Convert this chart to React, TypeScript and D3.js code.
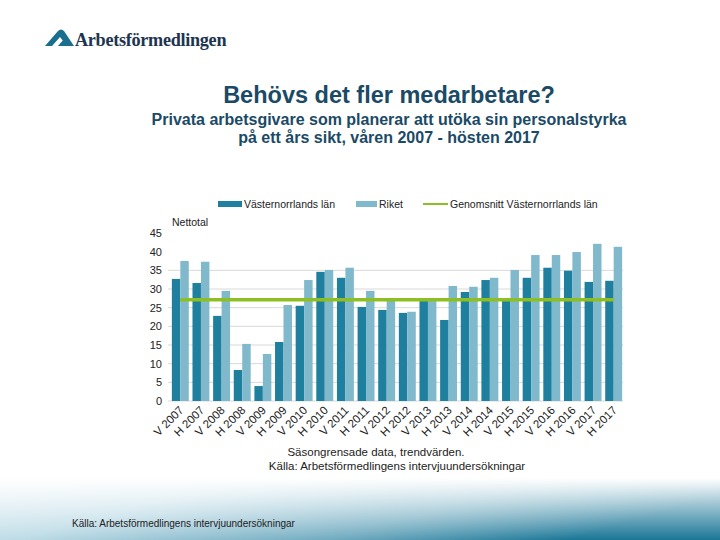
import React from "react";
import * as d3 from "d3";

const categories = ["V 2007","H 2007","V 2008","H 2008","V 2009","H 2009","V 2010","H 2010","V 2011","H 2011","V 2012","H 2012","V 2013","H 2013","V 2014","H 2014","V 2015","H 2015","V 2016","H 2016","V 2017","H 2017"];
const vasternorrland = [32.7,31.6,22.8,8.3,4.0,15.8,25.5,34.6,33.0,25.2,24.4,23.6,27.1,21.7,29.2,32.4,27.1,33.0,35.7,34.9,31.9,32.2];
const riket = [37.5,37.3,29.5,15.3,12.6,25.7,32.4,35.1,35.7,29.5,27.1,23.9,27.6,30.8,30.6,33.0,35.1,39.1,39.1,39.9,42.1,41.3];
const average = 27.1;
const yTicks = [0,5,10,15,20,25,30,35,40,45];
const gridTicks = [5,10,15,20,25,30,35];

const DARK = "#1f7f9e";
const LIGHT = "#80b9cb";
const GREEN = "#8dbf22";
const FONT = "'Liberation Sans', Arial, sans-serif";

export default function App() {
  const W = 720, H = 540;
  const x = d3.scaleBand<string>().domain(categories).range([170, 624]).paddingInner(0.18).paddingOuter(0.09);
  const y = d3.scaleLinear().domain([0, 45]).range([401, 233]);
  const bw = x.bandwidth() / 2;
  const x0 = (x(categories[0]) as number) + x.bandwidth() / 2;
  const x1 = (x(categories[categories.length - 1]) as number) + x.bandwidth() / 2;

  return (
    <svg width={W} height={H} style={{ position: "absolute", left: 0, top: 0 }} fontFamily={FONT}>
      <defs>
        <linearGradient id="bg" x1="0" y1="0" x2="1" y2="0.3">
          <stop offset="0" stopColor="#d4e8ef" />
          <stop offset="0.3" stopColor="#bcdbe6" />
          <stop offset="0.7" stopColor="#6faabf" />
          <stop offset="1" stopColor="#1b7797" />
        </linearGradient>
        <linearGradient id="fade" x1="0" y1="0" x2="0" y2="1">
          <stop offset="0" stopColor="#ffffff" stopOpacity="1" />
          <stop offset="0.4" stopColor="#ffffff" stopOpacity="0.6" />
          <stop offset="1" stopColor="#ffffff" stopOpacity="0" />
        </linearGradient>
      </defs>
      <rect x={0} y={0} width={W} height={H} fill="#ffffff" />
      <rect x={0} y={478} width={W} height={62} fill="url(#bg)" />
      <rect x={0} y={478} width={W} height={62} fill="url(#fade)" />

      {/* logo */}
      <g>
        <path d="M45,46 L58,31 Q61,28 64,31 L74,46 L67,46 L60,37 L52,46 Z" fill="#1b6f8e" />
        <path d="M58,46 L64,39 L70,46 Z" fill="#1b6f8e" />
        <text x={75} y={46} fontFamily="'Liberation Serif', 'DejaVu Serif', serif" fontSize={18.2} fontWeight="bold" fill="#1d3550" letterSpacing={-0.3}>Arbetsförmedlingen</text>
      </g>

      {/* titles */}
      <text x={389} y={103} textAnchor="middle" fontSize={23.5} fontWeight="bold" fill="#1b4a66">Behövs det fler medarbetare?</text>
      <text x={389} y={125} textAnchor="middle" fontSize={16} fontWeight="bold" fill="#1b4a66">Privata arbetsgivare som planerar att utöka sin personalstyrka</text>
      <text x={389} y={143} textAnchor="middle" fontSize={16} fontWeight="bold" fill="#1b4a66">på ett års sikt, våren 2007 - hösten 2017</text>

      {/* legend */}
      <rect x={218} y={201} width={24} height={6} fill={DARK} />
      <text x={244} y={207.5} fontSize={10.5} fill="#222">Västernorrlands län</text>
      <rect x={356} y={201} width={21} height={6} fill={LIGHT} />
      <text x={379} y={207.5} fontSize={10.5} fill="#222">Riket</text>
      <line x1={423} x2={448} y1={204} y2={204} stroke={GREEN} strokeWidth={2} />
      <text x={450} y={207.5} fontSize={10.5} fill="#222">Genomsnitt Västernorrlands län</text>

      {/* y axis */}
      <text x={172} y={226} fontSize={10.5} fill="#222">Nettotal</text>
      {gridTicks.map((t) => (
        <line key={"g" + t} x1={168} x2={623} y1={y(t)} y2={y(t)} stroke="#d9d9d9" strokeWidth={1} />
      ))}
      <line x1={168} x2={623} y1={y(0)} y2={y(0)} stroke="#d9d9d9" strokeWidth={1} />
      {yTicks.map((t) => (
        <text key={"t" + t} x={162} y={y(t) + 4} textAnchor="end" fontSize={11} fill="#222">{t}</text>
      ))}

      {/* bars */}
      {categories.map((c, i) => {
        const bx = x(c) as number;
        return (
          <g key={c}>
            <rect x={bx} y={y(vasternorrland[i])} width={bw} height={y(0) - y(vasternorrland[i])} fill={DARK} />
            <rect x={bx + bw} y={y(riket[i])} width={bw} height={y(0) - y(riket[i])} fill={LIGHT} />
          </g>
        );
      })}

      {/* average line */}
      <line x1={x0} x2={x1} y1={y(average)} y2={y(average)} stroke={GREEN} strokeWidth={3.5} />

      {/* x labels */}
      {categories.map((c) => {
        const cx = (x(c) as number) + x.bandwidth() / 2 + 4;
        return (
          <text key={"l" + c} x={cx} y={411} textAnchor="end" fontSize={11.5} fill="#222" transform={`rotate(-45 ${cx} 411)`}>{c}</text>
        );
      })}

      <text x={376} y={456} textAnchor="middle" fontSize={11.5} fill="#222">Säsongrensade data, trendvärden.</text>
      <text x={397} y={470} textAnchor="middle" fontSize={11.5} fill="#222">Källa: Arbetsförmedlingens intervjuundersökningar</text>

      <text x={72} y={527} fontSize={10} fill="#222">Källa: Arbetsförmedlingens intervjuundersökningar</text>
    </svg>
  );
}
